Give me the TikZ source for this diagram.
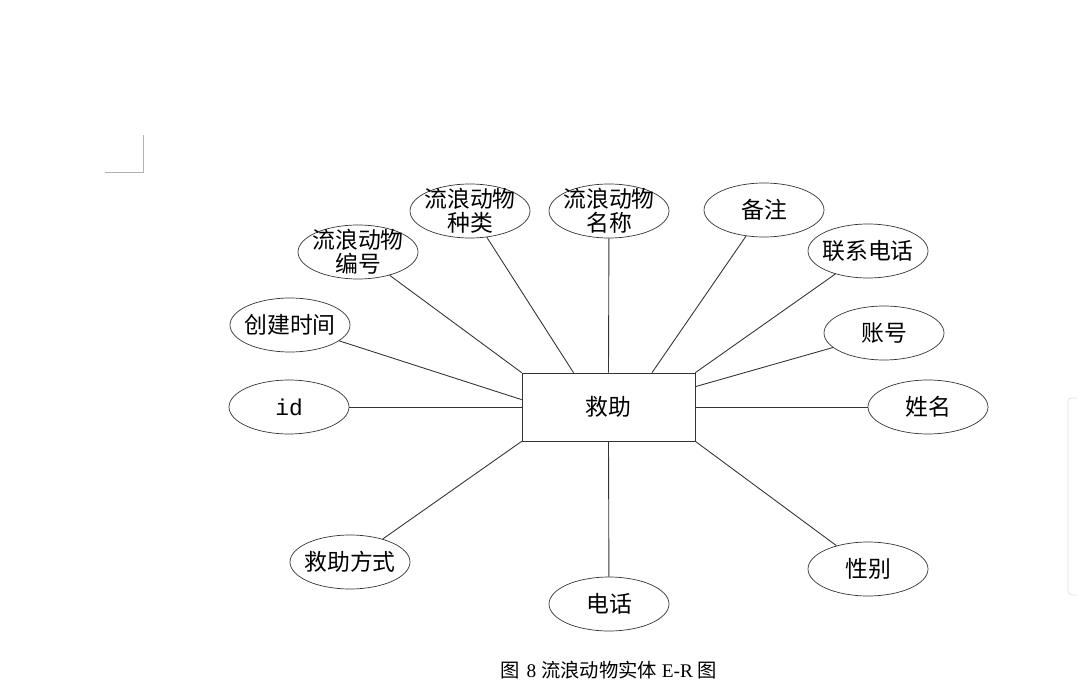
\documentclass[tikz,border=0pt]{standalone}
\usepackage{fontspec}
\setmainfont{Liberation Serif}
\setmonofont{Liberation Mono}
\newfontfamily\cjk{Noto Sans CJK SC}
\usetikzlibrary{shapes.geometric}
\begin{document}
\begin{tikzpicture}[
    x=0.02cm, y=-0.02cm,
    font=\cjk\fontsize{13}{13.8}\selectfont,
    attr/.style={draw=black!80, ellipse, minimum width=2.4cm, minimum height=1.08cm, inner xsep=-5pt, inner ysep=-5pt, align=center},
    entity/.style={draw=black!80, minimum width=3.46cm, minimum height=1.36cm},
    link/.style={draw=black!80, line width=0.5pt}
]
  \useasboundingbox (0,0) rectangle (1077,685);
  % ===== page marks =====
  \draw[black!30] (105,172) -- (143,172) -- (143,135);
  \draw[black!12, rounded corners=2pt] (1090,398) -- (1068,398) -- (1068,595) -- (1090,595);

  % ===== entity =====
  \node[entity] (jz) at (608.5,407) {救助};

  % ===== attributes =====
  \node[attr] (id) at (289,407) {\ttfamily id};
  \node[attr] (ctime) at (290,325) {创建时间};
  \node[attr] (bianhao) at (358,252) {流浪动物\\编号};
  \node[attr] (zhonglei) at (470,211) {流浪动物\\种类};
  \node[attr] (mingcheng) at (609,211) {流浪动物\\名称};
  \node[attr] (beizhu) at (764,210) {备注};
  \node[attr] (lxdh) at (868,251) {联系电话};
  \node[attr] (zhanghao) at (884,333) {账号};
  \node[attr] (xingming) at (928,407) {姓名};
  \node[attr] (xingbie) at (868,569) {性别};
  \node[attr] (dianhua) at (609,604) {电话};
  \node[attr] (fangshi) at (350,562) {救助方式};

  % ===== links =====
  \draw[link] (id) -- (jz.west);
  \draw[link] (ctime) -- ([yshift=-0.54cm]jz.north west);
  \draw[link] (bianhao) -- (jz.north west);
  \draw[link] (zhonglei) -- ([xshift=-0.7cm]jz.north);
  \draw[link] (mingcheng) -- (jz.north);
  \draw[link] (beizhu) -- ([xshift=0.87cm]jz.north);
  \draw[link] (lxdh) -- (jz.north east);
  \draw[link] (zhanghao) -- ([yshift=-0.28cm]jz.north east);
  \draw[link] (xingming) -- (jz.east);
  \draw[link] (xingbie) -- (jz.south east);
  \draw[link] (dianhua) -- (jz.south);
  \draw[link] (fangshi) -- (jz.south west);

  % ===== caption =====
  \node[font=\rmfamily\fontsize{11}{13}\selectfont] (cap) at (609,670) {{\cjk 图}\,\,8 {\cjk 流浪动物实体} E-R {\cjk 图}};
\end{tikzpicture}
\end{document}
